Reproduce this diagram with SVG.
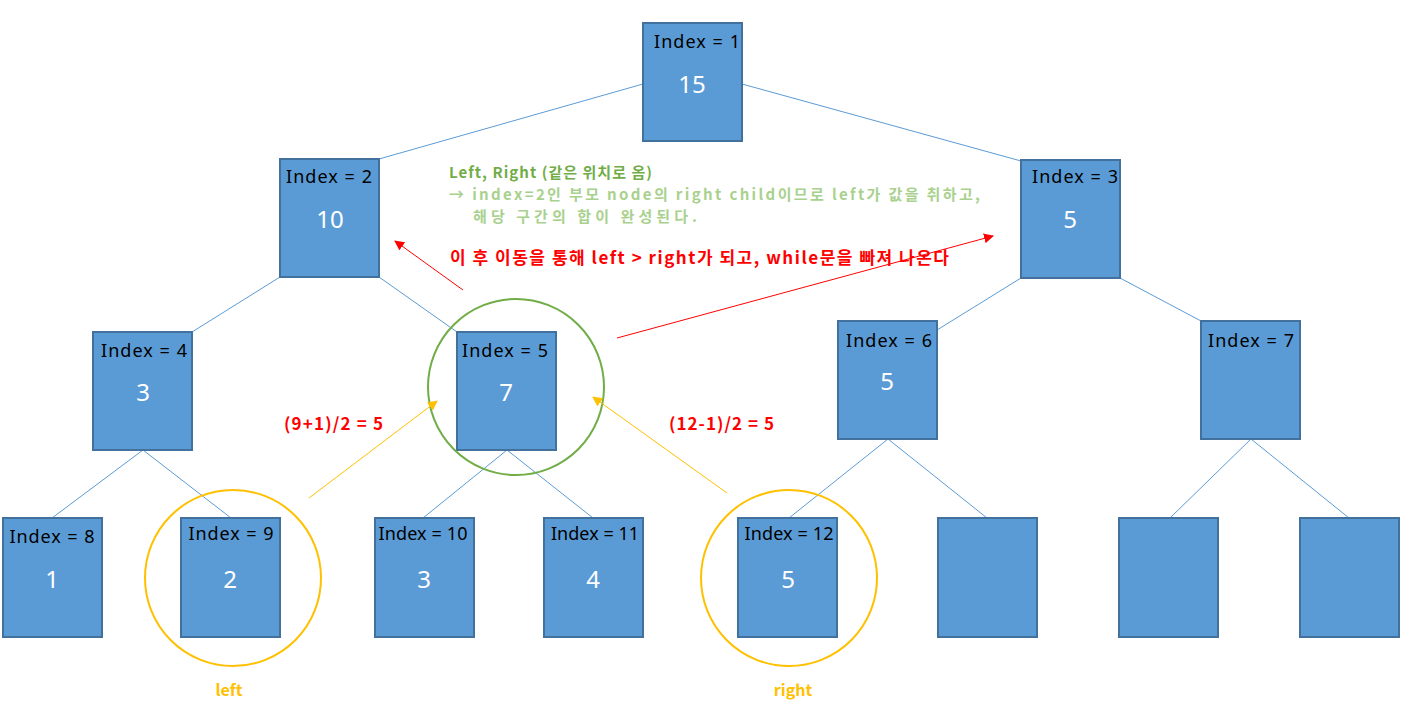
<svg xmlns="http://www.w3.org/2000/svg" width="1405" height="705" viewBox="0 0 1405 705">
<style>
.box{fill:#5B9BD5;stroke:#41719C;stroke-width:2}
.idx{font-family:"Noto Sans","Noto Sans CJK KR",sans-serif;font-size:18px;fill:#000;text-anchor:middle}
.val{font-family:"Noto Sans","Noto Sans CJK KR",sans-serif;font-size:24px;fill:#fff;text-anchor:middle}
.edge{stroke:#5B9BD5;stroke-width:1;fill:none}
.ya{stroke:#FFC000;stroke-width:1;fill:none;marker-end:url(#ay)}
.ra{stroke:#FF0000;stroke-width:1;fill:none;marker-end:url(#ar)}
.kr{font-family:"Noto Sans CJK KR",sans-serif;font-weight:bold}
</style>
<defs>
<marker id="ay" viewBox="0 0 10 10" refX="9" refY="5" markerWidth="10" markerHeight="10" markerUnits="userSpaceOnUse" orient="auto"><path d="M0,0 L10,5 L0,10 z" fill="#FFC000"/></marker>
<marker id="ar" viewBox="0 0 10 10" refX="9" refY="5" markerWidth="10" markerHeight="10" markerUnits="userSpaceOnUse" orient="auto"><path d="M0,0 L10,5 L0,10 z" fill="#FF0000"/></marker>
</defs>
<rect width="1405" height="705" fill="#fff"/>
<g id="connectors">
<line class="edge" x1="643" y1="84" x2="379" y2="159"/>
<line class="edge" x1="742" y1="84" x2="1021" y2="161"/>
<line class="edge" x1="280" y1="277" x2="192" y2="332"/>
<line class="edge" x1="379" y1="277" x2="457" y2="332"/>
<line class="edge" x1="1021" y1="278" x2="937" y2="330"/>
<line class="edge" x1="1120" y1="278" x2="1201" y2="321"/>
<line class="edge" x1="143" y1="450" x2="52" y2="518"/>
<line class="edge" x1="143" y1="450" x2="231" y2="518"/>
<line class="edge" x1="507" y1="450" x2="423" y2="518"/>
<line class="edge" x1="507" y1="450" x2="593" y2="518"/>
<line class="edge" x1="888" y1="439" x2="789" y2="518"/>
<line class="edge" x1="888" y1="439" x2="987" y2="518"/>
<line class="edge" x1="1251" y1="439" x2="1170" y2="518"/>
<line class="edge" x1="1251" y1="439" x2="1349" y2="518"/>
</g>
<g id="n1"><rect class="box" x="643" y="23" width="99" height="118"/><text class="idx" x="697" y="48" textLength="86" lengthAdjust="spacing">Index = 1</text><text class="val" x="692" y="93">15</text></g>
<g id="n2"><rect class="box" x="280" y="159" width="99" height="118"/><text class="idx" x="329" y="183" textLength="86" lengthAdjust="spacing">Index = 2</text><text class="val" x="330" y="228">10</text></g>
<g id="n3"><rect class="box" x="1021" y="160" width="99" height="118"/><text class="idx" x="1075" y="183" textLength="86" lengthAdjust="spacing">Index = 3</text><text class="val" x="1070" y="228">5</text></g>
<g id="n4"><rect class="box" x="93" y="332" width="99" height="118"/><text class="idx" x="144" y="357" textLength="86" lengthAdjust="spacing">Index = 4</text><text class="val" x="143" y="401">3</text></g>
<g id="n5"><rect class="box" x="457" y="332" width="99" height="118"/><text class="idx" x="505" y="357" textLength="86" lengthAdjust="spacing">Index = 5</text><text class="val" x="506" y="401">7</text></g>
<g id="n6"><rect class="box" x="838" y="321" width="99" height="118"/><text class="idx" x="889" y="347" textLength="86" lengthAdjust="spacing">Index = 6</text><text class="val" x="887" y="390">5</text></g>
<g id="n7"><rect class="box" x="1201" y="321" width="99" height="118"/><text class="idx" x="1251" y="347" textLength="86" lengthAdjust="spacing">Index = 7</text></g>
<g id="n8"><rect class="box" x="3" y="518" width="99" height="119"/><text class="idx" x="52" y="543" textLength="85" lengthAdjust="spacing">Index = 8</text><text class="val" x="52" y="588">1</text></g>
<g id="n9"><rect class="box" x="181" y="518" width="99" height="119"/><text class="idx" x="231" y="540" textLength="85" lengthAdjust="spacing">Index = 9</text><text class="val" x="230" y="588">2</text></g>
<g id="n10"><rect class="box" x="375" y="518" width="99" height="119"/><text class="idx" x="423" y="540" textLength="89" lengthAdjust="spacing">Index = 10</text><text class="val" x="424" y="588">3</text></g>
<g id="n11"><rect class="box" x="544" y="518" width="99" height="119"/><text class="idx" x="595" y="540" textLength="88" lengthAdjust="spacing">Index = 11</text><text class="val" x="593" y="588">4</text></g>
<g id="n12"><rect class="box" x="738" y="518" width="99" height="119"/><text class="idx" x="789" y="540" textLength="89" lengthAdjust="spacing">Index = 12</text><text class="val" x="788" y="588">5</text></g>
<g id="n13"><rect class="box" x="938" y="518" width="99" height="119"/></g>
<g id="n14"><rect class="box" x="1119" y="518" width="99" height="119"/></g>
<g id="n15"><rect class="box" x="1300" y="518" width="99" height="119"/></g>
<g id="highlights">
<circle cx="516" cy="387" r="88" fill="none" stroke="#70AD47" stroke-width="2"/>
<circle cx="233" cy="578" r="88" fill="none" stroke="#FFC000" stroke-width="2"/>
<circle cx="789" cy="578" r="88" fill="none" stroke="#FFC000" stroke-width="2"/>
</g>
<g id="annotation-arrows">
<line class="ya" x1="309" y1="498" x2="437" y2="401"/>
<line class="ya" x1="727" y1="493" x2="593" y2="397"/>
<line class="ra" x1="463" y1="290" x2="395" y2="241"/>
<line class="ra" x1="617" y1="338" x2="993" y2="236"/>
</g>
<g id="labels">
<text class="kr" x="449" y="178" font-size="15" fill="#70AD47" textLength="203" lengthAdjust="spacing">Left, Right (같은 위치로 옴)</text>
<text class="kr" x="449" y="200" font-size="15" fill="#A9D18E" textLength="531" lengthAdjust="spacing">→ index=2인 부모 node의 right child이므로 left가 값을 취하고,</text>
<text class="kr" x="473" y="222" font-size="15" fill="#A9D18E" textLength="224" lengthAdjust="spacing">해당 구간의 합이 완성된다.</text>
<text class="kr" x="450" y="264" font-size="17" fill="#FF0000" textLength="499" lengthAdjust="spacing">이 후 이동을 통해 left &gt; right가 되고, while문을 빠져 나온다</text>
<text class="kr" x="284" y="430" font-size="17" fill="#FF0000" textLength="99" lengthAdjust="spacing">(9+1)/2 = 5</text>
<text class="kr" x="669" y="430" font-size="17" fill="#FF0000" textLength="105" lengthAdjust="spacing">(12-1)/2 = 5</text>
<text class="kr" x="229" y="696" font-size="16" fill="#FFC000" text-anchor="middle">left</text>
<text class="kr" x="793" y="696" font-size="16" fill="#FFC000" text-anchor="middle">right</text>
</g>
</svg>
